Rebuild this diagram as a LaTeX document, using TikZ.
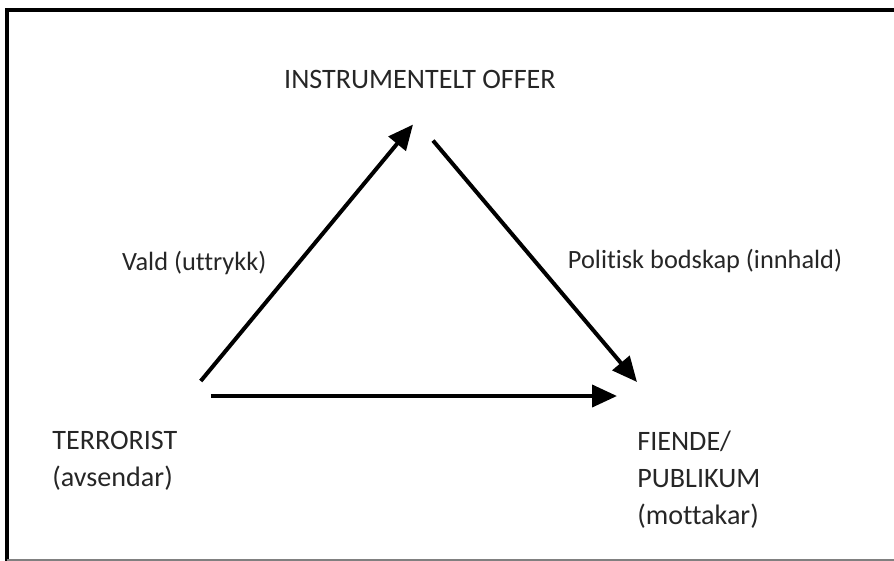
\documentclass[tikz,border=0pt]{standalone}
\usepackage{fontspec}
\setmainfont{Carlito}[Ligatures=NoCommon]
\usepackage{tikz}
\usetikzlibrary{positioning,arrows.meta}

\begin{document}
\begin{tikzpicture}[x=0.02cm, y=-0.02cm,
    font=\fontsize{16}{21}\selectfont, text=black!85,
    pil/.style={line width=0.08cm, -{Triangle[length=0.5cm, width=0.44cm]}},
    rolle/.style={inner sep=0pt, align=left},
    merke/.style={inner sep=0pt, font=\fontsize{15}{18}\selectfont}]
  \useasboundingbox (0,0) rectangle (894,561);
  % ramme
  \draw[line width=0.09cm] (7,561) -- (7,10) -- (894,10);
  \draw[gray, line width=0.04cm] (7,560) -- (894,560);

  \node (offer) [inner sep=0pt, anchor=base] at (420,89) {INSTRUMENTELT OFFER};
  \node (terrorist) [rolle, anchor=north west] at (52,431) {TERRORIST\\(avsendar)};
  \node (fiende) [rolle, anchor=north west] at (637,431) {FIENDE/\\PUBLIKUM\\(mottakar)};

  \draw[pil] ([xshift=0.46cm, yshift=1cm]terrorist.north east) -- ([xshift=-0.14cm, yshift=-0.7cm]offer.south)
    node[merke, pos=0.46, left=0.6cm] (vald) {Vald (uttrykk)};
  \draw[pil] ([xshift=0.26cm, yshift=-1.02cm]offer.south) -- ([yshift=0.98cm]fiende.north west)
    node[merke, pos=0.5, right=0.62cm] (bodskap) {Politisk bodskap (innhald)};
  \draw[pil] ([xshift=0.66cm, yshift=0.7cm]terrorist.north east) -- ([xshift=-0.4cm, yshift=0.7cm]fiende.north west);
\end{tikzpicture}
\end{document}
